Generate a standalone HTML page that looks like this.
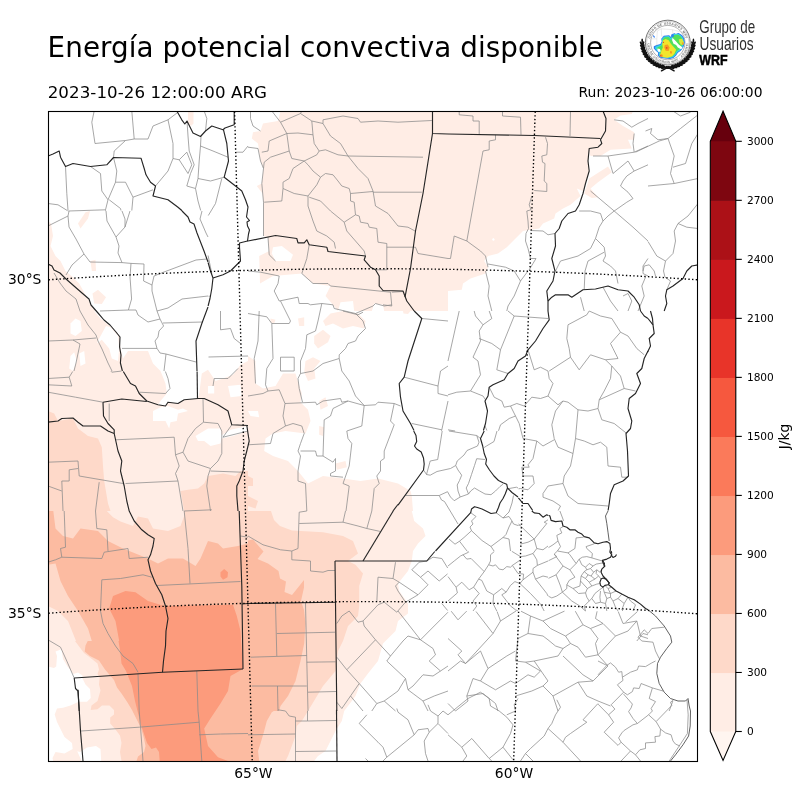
<!DOCTYPE html>
<html lang="es"><head><meta charset="utf-8"><title>Energía potencial convectiva disponible</title>
<style>
html,body{margin:0;padding:0;background:#fff;}
body{width:800px;height:800px;overflow:hidden;}
svg{display:block;will-change:transform;font-family:"DejaVu Sans","Liberation Sans",sans-serif;fill:#000;}
.dep{fill:none;stroke:#8a8a8a;stroke-width:0.75;stroke-linejoin:round;}
.prov{fill:none;stroke:#262626;stroke-width:1.15;stroke-linejoin:round;}
.coast{fill:none;stroke:#3a3a3a;stroke-width:0.8;stroke-linejoin:round;}
.grid{fill:none;stroke:#000;stroke-width:1.39;stroke-dasharray:1.39 2.29;}
</style></head><body>
<svg width="800" height="800" viewBox="0 0 800 800">
<rect width="800" height="800" fill="#fff"/>
<text x="47.6" y="57" font-size="27.78" textLength="555.4" lengthAdjust="spacing">Energía potencial convectiva disponible</text>
<text x="47.7" y="98" font-size="16.67" textLength="219.3" lengthAdjust="spacing">2023-10-26 12:00:00 ARG</text>
<text x="578.5" y="97.3" font-size="13.89" textLength="184" lengthAdjust="spacing">Run: 2023-10-26 06:00:00</text>
<defs><clipPath id="mapclip"><rect x="48.5" y="111.5" width="649" height="650"/></clipPath></defs>
<g clip-path="url(#mapclip)">
<g id="fills">
<defs><clipPath id="ca1"><rect x="48" y="111" width="200.0" height="200.0"/></clipPath>
<clipPath id="ca2"><rect x="248" y="111" width="200.0" height="200.0"/></clipPath>
<clipPath id="ca3"><rect x="448" y="111" width="200.0" height="200.0"/></clipPath>
<clipPath id="cb1"><rect x="48" y="311" width="200.0" height="200.0"/></clipPath>
<clipPath id="cb2"><rect x="248" y="311" width="200.0" height="200.0"/></clipPath>
<clipPath id="cc1"><rect x="48" y="511" width="200.0" height="200.0"/></clipPath>
<clipPath id="cc2"><rect x="248" y="511" width="200.0" height="200.0"/></clipPath>
<clipPath id="cd1"><rect x="48" y="711" width="200" height="51"/></clipPath>
<clipPath id="cd2"><rect x="248" y="711" width="200" height="51"/></clipPath>
<clipPath id="ce1"><rect x="48" y="641" width="120" height="121"/></clipPath></defs>
<g clip-path="url(#ca1)">
<polygon points="188.0,111.0 188.0,123.5 191.0,126.0 193.5,123.5 193.5,111.0" fill="#ffede5"/>
<polygon points="48.0,221.0 51.0,223.5 53.0,236.0 50.5,246.0 55.5,256.0 60.5,261.0 65.5,271.0 73.0,277.2 79.2,283.5 85.5,294.8 91.8,306.0 95.5,311.0 48.0,311.0" fill="#ffede5"/>
<polygon points="78.0,223.5 85.5,212.2 90.0,211.0 88.0,218.5 80.5,228.5" fill="#ffede5"/>
<polygon points="90.5,261.0 95.5,259.8 96.0,271.0 91.8,271.0" fill="#ffede5"/>
<polygon points="92.5,293.5 98.0,289.8 106.0,297.2 101.8,304.0 94.2,303.5" fill="#ffede5"/>
</g>
<g clip-path="url(#ca2)">
<polygon points="280.5,111.0 278.0,121.0 263.0,123.5 260.5,131.0 253.0,132.2 251.8,138.5 258.0,143.5 260.5,161.0 263.5,168.5 261.8,183.5 256.8,186.0 262.5,193.5 263.5,202.2 263.5,236.0 268.0,237.2 269.2,251.0 259.2,256.0 260.0,283.5 273.0,276.0 301.8,273.5 313.0,283.5 330.5,286.0 325.5,296.0 331.8,303.5 338.0,311.0 448.0,311.0 448.0,111.0" fill="#ffede5"/>
<polygon points="273.0,247.2 281.8,246.0 293.0,254.8 290.5,261.0 275.5,261.0 271.8,253.5" fill="#ffffff"/>
<polygon points="338.0,311.0 340.5,302.2 353.0,301.0 354.2,311.0" fill="#ffffff"/>
<polygon points="371.8,311.0 374.2,303.5 383.0,304.8 384.2,311.0" fill="#ffffff"/>
</g>
<g clip-path="url(#ca3)">
<polygon points="448.0,111.0 605.5,111.0 606.0,126.0 601.0,139.8 598.0,147.2 589.2,148.5 588.0,161.0 589.2,171.0 585.5,183.5 583.0,191.0 576.8,188.5 580.5,196.0 570.5,204.8 563.0,208.5 555.5,213.5 554.2,218.5 543.0,223.5 539.2,228.5 523.0,231.0 515.5,238.5 506.8,247.2 498.0,253.5 488.0,256.0 484.2,261.0 488.0,267.2 485.5,273.5 470.5,278.5 463.0,283.5 461.8,289.8 448.0,291.0" fill="#ffede5"/>
<polygon points="605.5,111.0 633.0,111.0 631.8,114.0 620.5,115.5 614.2,119.8 623.0,126.0 634.2,132.2 634.2,139.8 628.0,139.8 631.8,148.5 610.5,149.8 600.5,156.0 590.5,156.0 588.0,148.5 600.5,143.5 605.5,126.0" fill="#ffede5"/>
<polygon points="589.2,178.5 608.0,166.5 611.8,172.2 598.0,182.2 590.5,188.5 598.0,197.2 591.8,198.0 584.2,193.5" fill="#ffede5"/>
<polygon points="492.0,239.0 493.8,238.0 494.8,240.0 493.0,241.0" fill="#ffffff"/>
</g>
<g clip-path="url(#cb1)">
<polygon points="48.0,311.0 94.2,311.0 100.5,318.5 110.5,326.5 119.2,336.0 120.5,348.5 123.0,358.5 128.0,351.0 148.0,351.0 153.0,363.5 160.5,371.0 165.5,383.5 166.8,393.5 160.5,401.0 158.0,404.8 165.5,406.0 168.0,402.2 178.0,403.5 184.2,399.8 198.0,398.5 199.2,393.5 201.8,373.5 208.0,369.8 215.5,381.0 223.0,378.5 233.0,374.8 240.5,364.8 248.0,361.0 248.0,511.0 48.0,511.0" fill="#ffede5"/>
<polygon points="153.0,411.0 160.5,407.2 168.0,406.0 178.0,409.8 183.0,408.5 188.0,411.0 178.0,413.5 176.8,421.0 170.5,422.2 169.2,428.5 165.5,421.0 153.0,421.0" fill="#ffffff"/>
<polygon points="195.5,436.0 208.0,428.5 220.5,428.5 221.8,436.0 220.5,443.5 210.5,446.0 204.2,441.0 198.0,441.0" fill="#ffffff"/>
<polygon points="220.5,436.0 230.5,429.8 248.0,426.0 248.0,431.0 233.0,436.0 221.8,438.5" fill="#ffffff"/>
<polygon points="70.5,323.5 75.5,318.5 80.5,321.0 81.8,331.0 75.5,336.0 70.5,333.5" fill="#ffffff"/>
<polygon points="96.8,343.5 99.2,338.5 106.0,326.0 110.5,327.2 118.0,336.0 119.2,348.5 118.0,361.0 111.8,358.5 109.2,348.5 101.8,339.8" fill="#ffffff"/>
<polygon points="70.5,356.0 74.2,352.2 76.8,361.0 73.0,371.0 69.2,368.5" fill="#ffffff"/>
<polygon points="79.2,353.5 84.2,351.0 85.5,363.5 80.5,366.0" fill="#ffffff"/>
<polygon points="208.0,386.0 214.2,386.0 214.2,393.5 208.0,393.5" fill="#ffffff"/>
<polygon points="228.0,386.0 240.5,384.8 241.8,396.0 230.5,397.2" fill="#ffffff"/>
<polygon points="223.0,363.5 234.2,363.5 233.0,367.2 223.0,367.2" fill="#ffffff"/>
<polygon points="48.0,411.0 54.2,413.5 58.0,421.0 73.0,418.5 78.0,428.5 88.0,436.0 98.0,438.5 101.8,447.2 103.0,466.0 104.2,481.0 108.0,503.5 110.5,511.0 48.0,511.0" fill="#fed9c9"/>
<polygon points="180.5,491.0 188.0,489.8 198.0,488.5 204.2,483.5 208.0,476.0 223.0,473.5 235.5,476.0 240.5,471.0 248.0,471.0 248.0,511.0 184.2,511.0" fill="#fed9c9"/>
</g>
<g clip-path="url(#cb2)">
<polygon points="248.0,356.0 255.5,361.0 255.5,383.5 263.0,388.5 275.5,386.0 283.0,373.5 295.5,373.5 301.8,393.5 300.5,402.2 308.0,409.8 310.5,421.0 305.5,433.5 285.5,431.0 273.0,433.5 265.5,438.5 264.2,451.0 273.0,456.0 288.0,461.0 298.0,471.0 308.0,483.5 323.0,476.0 343.0,478.5 360.5,481.0 378.0,478.5 398.0,483.5 410.5,491.0 411.8,496.0 413.0,511.0 248.0,511.0" fill="#ffede5"/>
<polygon points="323.0,321.0 330.5,313.5 343.0,311.0 358.0,313.5 365.5,321.0 364.2,328.5 353.0,326.0 343.0,328.5 333.0,323.5 325.5,326.0" fill="#ffede5"/>
<polygon points="298.0,318.5 304.2,317.2 304.2,326.0 299.2,326.0" fill="#ffede5"/>
<polygon points="314.2,336.0 323.0,329.8 330.5,336.0 328.0,342.2 318.0,348.5 314.2,343.5" fill="#ffede5"/>
<polygon points="305.5,361.0 313.0,357.2 320.5,361.0 314.2,368.5 315.5,378.5 308.0,381.0 304.2,372.2" fill="#ffede5"/>
<polygon points="319.2,401.0 325.5,397.2 328.0,406.0 320.5,409.8" fill="#ffede5"/>
<polygon points="319.2,426.0 324.2,427.2 323.0,436.0 319.2,434.8" fill="#ffede5"/>
<polygon points="335.5,463.5 345.5,461.0 346.8,467.2 336.8,469.8" fill="#ffede5"/>
<polygon points="270.5,318.5 275.5,319.8 274.2,323.5 270.5,322.2" fill="#ffede5"/>
<polygon points="403.0,311.0 410.5,311.0 408.0,314.0 403.5,313.5" fill="#ffede5"/>
<polygon points="248.0,411.0 258.0,411.0 259.2,417.2 250.5,416.0" fill="#ffffff"/>
<polygon points="248.0,476.0 253.0,478.5 253.0,486.0 248.0,486.0" fill="#fed9c9"/>
<polygon points="248.0,496.0 258.0,501.0 255.5,508.5 248.0,506.0" fill="#fed9c9"/>
</g>
<g clip-path="url(#cc1)">
<polygon points="48.0,511.0 248.0,511.0 248.0,711.0 48.0,711.0" fill="#ffede5"/>
<polygon points="48.0,649.8 51.8,651.0 54.2,661.0 48.0,666.0" fill="#ffffff"/>
<polygon points="55.5,651.0 61.8,649.8 66.8,661.0 73.0,673.5 63.0,671.0 58.0,661.0" fill="#ffffff"/>
<polygon points="75.5,678.5 81.8,681.0 88.0,686.0 90.5,696.0 83.0,702.2 78.0,693.5" fill="#ffffff"/>
<polygon points="48.0,511.0 248.0,511.0 248.0,711.0 101.8,711.0 98.0,701.0 100.5,691.0 93.0,683.5 85.5,676.0 83.0,661.0 78.0,646.0 73.0,633.5 68.0,621.0 58.0,611.0 48.0,606.0" fill="#fed9c9"/>
<polygon points="106.8,511.0 113.0,517.2 120.5,521.5 133.0,526.0 138.0,516.5 148.0,518.5 153.0,528.5 168.0,531.0 180.5,526.0 184.2,516.0 183.8,511.0" fill="#ffede5"/>
<polygon points="48.0,506.0 53.0,508.5 55.5,528.5 63.0,536.0 73.0,538.5 80.5,528.5 98.0,531.0 108.0,541.0 123.0,548.5 148.0,558.5 158.0,563.5 168.0,558.5 183.0,558.5 195.5,566.0 200.5,558.5 208.0,541.0 218.0,543.5 223.0,548.5 238.0,546.0 248.0,543.5 248.0,711.0 118.0,711.0 114.2,691.0 108.0,681.0 98.0,671.0 90.5,661.0 85.5,653.5 85.5,647.2 91.8,641.0 88.0,628.5 78.0,611.0 68.0,596.0 60.5,581.0 55.5,563.5 48.0,564.8" fill="#fcbba1"/>
<polygon points="113.0,596.0 125.5,591.0 135.5,592.2 148.0,601.0 164.2,606.0 233.0,604.8 236.8,616.0 240.5,631.0 243.0,669.0 230.5,676.0 228.0,691.0 220.5,703.5 215.5,711.0 135.5,711.0 130.5,696.0 125.5,676.0 120.5,661.0 119.2,641.0 115.5,621.0 109.2,608.5" fill="#fc9b7c"/>
<polygon points="220.5,572.2 224.2,569.0 228.0,572.2 227.5,577.2 223.0,579.8 220.5,576.5" fill="#fc9b7c"/>
</g>
<g clip-path="url(#cc2)">
<polygon points="248.0,511.0 411.8,511.0 414.2,521.0 423.0,528.5 425.5,536.0 418.0,543.5 413.0,551.0 411.8,561.0 408.0,571.0 398.0,583.5 399.2,591.0 408.0,603.5 408.0,613.5 398.0,621.0 395.5,631.0 383.0,643.5 378.0,661.0 368.0,673.5 360.5,683.5 355.5,696.0 348.0,706.0 344.2,711.0 248.0,711.0" fill="#ffede5"/>
<polygon points="248.0,511.0 271.0,511.0 274.0,520.0 280.0,526.0 292.0,530.5 323.0,532.2 343.0,536.0 353.0,541.0 358.0,553.5 348.0,561.0 355.5,564.8 363.0,573.5 359.2,586.0 359.2,606.0 358.0,616.0 348.0,626.0 343.0,641.0 338.0,651.0 335.5,671.0 323.0,686.0 315.5,698.5 308.0,711.0 248.0,711.0" fill="#fed9c9"/>
<polygon points="248.0,540.5 253.0,539.5 263.5,551.5 257.5,559.0 268.0,563.5 278.5,571.0 280.0,578.5 286.0,581.5 284.5,592.0 292.0,595.0 304.0,580.0 304.0,587.5 301.0,601.0 304.0,610.0 305.5,623.5 304.2,643.5 300.5,661.0 295.5,681.0 288.0,696.0 280.5,706.0 279.2,711.0 248.0,711.0" fill="#fcbba1"/>
</g>
<g clip-path="url(#cd1)">
<polygon points="48.0,698.5 248.0,698.5 248.0,761.0 48.0,761.0" fill="#ffede5"/>
<polygon points="48.0,698.5 60.5,708.5 54.2,716.0 58.0,726.0 65.5,736.0 73.0,743.5 65.5,748.5 55.5,751.0 53.0,761.0 48.0,761.0" fill="#ffffff"/>
<polygon points="88.0,747.2 98.0,746.0 101.8,761.0 85.5,761.0" fill="#ffffff"/>
<polygon points="95.5,698.5 99.2,707.2 110.5,708.5 115.5,716.0 110.5,723.5 120.5,733.5 123.0,741.0 118.0,748.5 113.0,761.0 248.0,761.0 248.0,698.5" fill="#fed9c9"/>
<polygon points="118.0,698.5 121.8,711.0 135.5,726.0 140.5,736.0 144.2,748.5 143.0,761.0 248.0,761.0 248.0,698.5" fill="#fcbba1"/>
<polygon points="131.8,698.5 135.5,711.0 140.5,726.0 145.5,738.5 155.5,748.5 158.0,761.0 228.0,761.0 218.0,757.2 208.0,746.0 204.2,728.5 210.5,718.5 215.5,711.0 223.0,701.0 224.2,698.5" fill="#fc9b7c"/>
</g>
<g clip-path="url(#cd2)">
<polygon points="248.0,698.5 353.0,698.5 348.0,708.5 344.2,711.0 341.8,721.0 335.5,731.0 330.5,741.0 325.5,751.0 318.0,756.0 314.2,761.0 248.0,761.0" fill="#ffede5"/>
<polygon points="248.0,698.5 315.5,698.5 308.0,711.0 301.8,721.0 296.8,726.0 295.5,736.0 291.8,746.0 288.0,756.0 285.5,761.0 248.0,761.0" fill="#fed9c9"/>
<polygon points="248.0,698.5 285.5,698.5 278.0,708.5 271.8,712.2 266.8,721.0 264.2,731.0 260.5,743.5 258.0,751.0 259.2,761.0 248.0,761.0" fill="#fcbba1"/>
</g>
<g clip-path="url(#ce1)">
<polygon points="48.0,641.0 168.0,641.0 168.0,761.0 48.0,761.0" fill="#ffede5"/>
<polygon points="48.0,666.5 54.0,668.0 56.2,666.5 57.0,656.0 55.5,651.5 61.5,649.2 63.0,659.0 67.5,666.5 73.5,674.0 78.0,672.5 82.5,675.5 82.5,678.5 85.5,684.5 90.0,689.0 90.7,698.0 87.0,701.7 78.7,701.7 70.5,705.5 63.0,707.7 57.0,708.5 54.7,714.5 57.0,722.0 60.0,728.0 64.5,737.0 72.0,743.0 72.7,749.0 64.5,753.5 55.5,752.0 52.5,758.0 53.2,761.0 48.0,761.0" fill="#ffffff"/>
<polygon points="77.2,751.2 80.2,752.0 87.0,747.5 96.0,746.0 100.5,749.0 101.2,761.0 81.7,761.0" fill="#ffffff"/>
<polygon points="75.0,641.0 79.5,647.0 84.0,653.0 90.0,657.5 97.5,663.5 99.0,669.5 97.5,674.0 99.7,677.0 99.0,684.5 100.5,690.5 97.5,701.0 91.5,705.5 90.7,710.0 97.5,709.2 102.0,705.5 109.5,705.5 114.0,710.0 114.0,714.5 110.2,717.5 110.2,723.5 115.5,729.5 120.0,735.5 121.5,743.0 120.0,752.0 121.5,761.0 168.0,761.0 168.0,641.0" fill="#fed9c9"/>
<polygon points="87.7,641.0 85.5,645.5 84.7,651.5 90.0,656.0 99.0,660.5 105.0,669.5 109.5,674.7 114.0,680.0 117.0,687.5 121.5,693.5 127.5,702.5 132.0,710.0 136.5,719.0 141.0,728.0 144.0,738.5 145.5,746.0 144.0,752.0 138.0,756.5 136.5,761.0 168.0,761.0 168.0,641.0" fill="#fcbba1"/>
<polygon points="118.5,641.0 120.0,650.0 121.5,663.5 126.0,671.0 129.0,678.5 132.0,686.0 135.0,701.0 138.0,713.0 141.0,725.0 144.0,734.0 147.0,743.0 151.5,749.0 156.0,747.5 159.0,752.0 159.7,761.0 168.0,761.0 168.0,641.0" fill="#fc9b7c"/>
</g>
</g>
<g id="deps" class="dep">
<polyline points="94.2,111.0 91.8,122.2 95.0,143.5 125.5,140.5 134.2,139.0 131.8,111.0"/>
<polyline points="125.5,140.5 114.2,151.0 113.5,157.5"/>
<polyline points="134.2,139.0 148.0,139.0 153.0,126.0 168.0,119.8 178.0,112.2"/>
<polyline points="168.0,119.8 173.0,143.5 173.0,158.5 168.0,171.0 155.5,186.0"/>
<polyline points="173.0,158.5 179.2,159.8 186.8,152.2 191.8,164.8 188.0,173.5 179.2,159.8"/>
<polyline points="187.0,121.0 188.0,136.0 189.2,151.0 194.2,164.8 190.5,173.5 186.8,186.0 195.5,188.5 198.0,178.5 199.2,161.0 200.5,146.0 201.0,136.5"/>
<polyline points="200.5,146.0 213.0,151.0 228.0,157.2"/>
<polyline points="198.0,178.5 210.5,181.0 224.2,177.2"/>
<polyline points="195.5,188.5 198.0,201.0 200.7,210.5"/>
<polyline points="208.1,255.5 209.2,261.0 211.8,273.5"/>
<polyline points="221.8,178.5 215.5,203.5 208.3,215.5"/>
<polyline points="48.0,203.5 58.0,204.8 67.5,210.7"/>
<polyline points="68.5,211.0 105.5,209.8"/>
<polyline points="65.5,166.5 66.8,193.5 68.0,210.5"/>
<polyline points="90.5,166.5 100.5,173.5 101.8,191.0 108.0,199.8 105.5,209.8 105.6,210.8"/>
<polyline points="108.0,199.8 115.5,182.2 125.5,182.2 133.0,197.2 131.8,210.5"/>
<polyline points="113.5,157.5 116.8,171.0 115.5,182.2"/>
<polyline points="133.0,197.2 153.0,189.8"/>
<polyline points="109.2,199.8 120.5,208.5 121.0,210.5"/>
<polyline points="208.2,260.6 209.2,261.0"/>
<polyline points="208.5,296.2 210.5,296.0"/>
<polyline points="235.5,152.2 243.0,152.2 248.0,146.0"/>
<polyline points="204.2,111.0 206.8,118.5 205.5,131.0"/>
<polyline points="250.5,111.0 250.5,118.5 253.0,126.0 260.5,131.0"/>
<polyline points="248.0,147.2 258.0,148.5 260.5,161.0"/>
<polyline points="271.8,111.0 280.5,122.2 286.8,133.5 289.2,151.0 291.8,158.5 304.2,161.0 316.8,154.8 319.2,151.0 314.2,143.5 313.0,134.8 298.0,133.0 286.8,133.5"/>
<polyline points="280.5,122.2 300.5,113.5 301.8,111.0"/>
<polyline points="300.5,113.5 311.8,121.0 313.0,134.8"/>
<polyline points="311.8,121.0 323.0,123.5 323.0,119.8 343.0,116.0 358.0,118.5 360.5,122.2 378.0,121.0 398.0,122.2 431.8,120.5"/>
<polyline points="323.0,123.5 330.5,136.0 340.5,143.5 348.0,156.0 423.0,157.2"/>
<polyline points="319.2,151.0 325.5,149.8 338.0,154.8 348.0,156.0"/>
<polyline points="348.0,156.0 358.0,168.5 368.0,178.5 373.0,191.0 375.5,206.0 388.0,213.5 398.0,226.0 408.0,227.2 415.0,231.0"/>
<polyline points="373.0,192.2 421.8,192.2"/>
<polyline points="350.5,193.5 373.0,191.5"/>
<polyline points="304.2,161.0 308.0,164.8 313.0,171.0 320.5,177.2 325.5,173.5 333.0,174.8 338.0,181.0 341.8,186.0 349.2,188.5 350.5,193.5 350.5,201.0 354.2,202.2 355.5,214.8 359.2,216.0 360.5,222.2 368.0,223.5 369.2,227.2 376.8,228.5 378.0,242.2 386.8,243.5 386.8,269.8 375.5,269.8"/>
<polyline points="304.2,161.0 293.0,168.5 289.2,178.5 283.0,182.2 283.0,188.5 294.2,193.5 308.0,196.0 316.8,184.8 320.5,177.2"/>
<polyline points="308.0,196.0 308.0,206.0 313.0,221.0 316.8,231.0 326.8,236.0 334.2,242.2 335.5,248.5"/>
<polyline points="309.2,197.2 320.5,201.0 330.5,211.0 344.2,222.2 346.8,231.0 355.5,241.0 364.2,251.0 365.5,256.0"/>
<polyline points="344.2,222.2 355.5,214.8"/>
<polyline points="386.8,247.2 415.5,247.2 418.0,253.5 448.0,258.5"/>
<polyline points="289.2,151.0 270.5,157.2 264.2,162.2 263.5,168.5"/>
<polyline points="286.8,133.5 269.2,141.0 268.0,151.0 261.8,152.2"/>
<polyline points="283.0,188.5 281.8,201.0 264.2,202.2"/>
<polyline points="260.5,161.0 263.5,168.5 261.8,183.5 263.5,202.2 263.5,236.0"/>
<polyline points="268.0,237.2 269.2,254.8 275.5,261.0"/>
<polyline points="309.2,244.8 306.8,258.5 301.8,273.5"/>
<polyline points="248.0,271.0 260.5,272.2 279.2,276.0 278.0,283.5 274.2,291.0 279.2,301.0 298.0,297.2 299.2,303.5 308.0,303.5 310.5,304.8 321.8,303.5 333.0,304.8 334.2,308.5 355.5,313.5 373.0,306.0 375.5,303.5 384.2,306.0 391.8,304.8"/>
<polyline points="301.8,273.5 313.0,283.5 328.0,283.5 330.5,286.0 390.5,292.2 391.8,306.0 383.0,304.8"/>
<polyline points="391.8,292.2 403.0,291.5"/>
<polyline points="459.2,111.0 459.2,114.8 473.0,116.0 473.0,121.0 479.2,121.0 479.2,134.0"/>
<polyline points="502.5,111.0 502.5,116.0 520.5,117.2 521.0,134.8"/>
<polyline points="570.5,111.0 570.0,136.0"/>
<polyline points="495.5,134.8 495.5,139.8 489.2,141.0 489.2,149.8 483.0,151.0 466.8,241.0"/>
<polyline points="448.0,258.5 450.5,258.5 454.2,236.0 466.8,241.0 480.5,251.0 485.5,256.0 488.0,267.2"/>
<polyline points="545.5,137.2 547.5,143.5 546.8,154.8 541.8,156.0 542.5,162.2 545.0,163.5 544.2,181.0 546.8,183.5 546.8,191.5 534.2,190.5"/>
<polyline points="531.8,196.0 529.2,204.8 531.0,209.8 526.8,211.0 528.0,221.0 528.5,228.5 526.0,233.5 525.5,241.0 528.0,248.5 530.5,258.5 536.0,258.5 533.0,263.5 529.2,269.8"/>
<polyline points="530.5,230.5 543.0,231.0 548.0,234.8 555.0,233.5"/>
<polyline points="485.5,271.0 489.2,286.0 488.0,296.0 491.8,311.0"/>
<polyline points="488.0,264.0 505.5,267.2 514.2,271.0 520.5,281.0 528.0,271.0"/>
<polyline points="520.5,281.0 514.2,296.0 508.0,306.0 506.8,311.0"/>
<polyline points="623.0,121.0 631.8,127.2 638.0,123.5 648.0,118.5"/>
<polyline points="614.2,119.8 623.0,121.0"/>
<polyline points="634.2,133.5 633.0,143.5 634.2,152.2 648.0,146.0"/>
<polyline points="593.0,156.0 608.0,156.0 634.2,152.2"/>
<polyline points="608.0,156.0 613.0,173.5 628.0,161.0 634.2,171.0 626.8,176.0 623.0,181.0 620.5,186.0 628.0,192.2 633.0,198.5 626.8,202.2 614.2,211.0"/>
<polyline points="634.2,171.0 648.0,164.8"/>
<polyline points="590.5,191.0 614.2,211.0 633.0,227.2 648.0,241.0"/>
<polyline points="614.2,211.0 608.0,216.0 603.0,221.0 599.2,227.2 595.5,238.5 590.5,248.5 578.0,256.0 560.5,261.0 555.5,271.0"/>
<polyline points="579.2,211.0 590.5,211.0 600.5,213.5 603.0,221.0"/>
<polyline points="595.5,238.5 604.2,247.2 605.5,256.0 603.0,261.0 610.5,266.0 615.5,271.0 618.0,283.5"/>
<polyline points="604.2,252.2 588.0,261.0 585.0,271.0 584.2,289.8"/>
<polyline points="648.0,258.5 643.0,266.0 643.0,273.5 648.0,276.0"/>
<polyline points="623.0,296.0 628.0,293.5 631.8,301.0 628.0,311.0"/>
<polyline points="580.5,297.2 584.2,311.0"/>
<polyline points="603.0,287.2 610.5,301.0 618.0,311.0"/>
<polyline points="645.5,131.0 651.8,128.5 650.5,133.5 658.0,139.8 668.0,138.5 680.5,128.5 698.0,114.8"/>
<polyline points="635.5,152.2 659.2,141.0 668.0,138.5"/>
<polyline points="668.0,138.5 674.2,156.0 671.8,167.2 670.5,173.5 674.2,183.5"/>
<polyline points="673.0,167.2 685.5,163.5 691.8,143.5 698.0,133.5"/>
<polyline points="648.0,186.0 674.2,183.5 698.0,178.5"/>
<polyline points="648.0,241.5 656.8,256.0 665.5,261.0 673.0,253.5 675.5,241.0 674.2,231.0 678.0,223.5 688.0,216.0 698.0,203.5"/>
<polyline points="678.0,223.5 686.8,227.2 698.0,228.5"/>
<polyline points="665.5,261.0 663.5,271.0 665.0,277.2 670.5,281.0 666.8,289.8"/>
<polyline points="643.0,271.0 644.2,266.0 649.2,264.8 654.2,271.0 655.5,276.0"/>
<polyline points="645.5,277.2 641.8,286.0 644.2,296.0 638.0,311.0"/>
<polyline points="673.0,111.0 680.5,116.0 690.5,112.2"/>
<polyline points="72.7,371.5 69.2,377.2 48.0,378.5"/>
<polyline points="48.0,384.8 71.8,386.0 69.2,377.2"/>
<polyline points="48.0,392.2 75.5,397.2 103.0,402.2"/>
<polyline points="111.0,371.2 111.8,372.2 121.2,371.1"/>
<polyline points="48.0,462.2 78.0,461.0 79.2,476.0 123.0,483.5"/>
<polyline points="61.8,481.0 69.2,481.0 69.2,469.8 78.0,468.5"/>
<polyline points="61.8,481.0 63.0,511.0"/>
<polyline points="99.2,482.2 95.5,511.0"/>
<polyline points="48.0,486.0 61.8,491.0"/>
<polyline points="165.4,371.5 168.0,378.5 170.0,388.5 165.5,393.5 139.2,392.2"/>
<polyline points="208.5,357.0 248.0,356.0"/>
<polyline points="220.5,311.0 220.5,329.8 230.5,328.5 234.2,338.5 240.5,343.5"/>
<polyline points="213.0,386.0 214.2,378.5 228.0,378.5 238.0,368.5"/>
<polyline points="203.0,398.5 203.5,422.2 218.0,423.5 221.8,431.0 221.8,453.5 218.0,461.0 210.5,468.5 188.0,461.0 183.0,452.2 188.0,438.5 195.5,428.5 203.5,422.2"/>
<polyline points="115.5,439.8 174.2,437.2 175.5,454.8 183.0,452.2"/>
<polyline points="175.5,454.8 179.2,466.0 175.5,473.5 178.0,481.0 125.5,483.5"/>
<polyline points="178.0,481.0 183.0,511.0"/>
<polyline points="210.5,468.5 208.0,476.0 206.8,486.0 210.5,511.0"/>
<polyline points="210.5,471.0 241.8,472.2"/>
<polyline points="231.8,424.8 223.0,437.2 248.0,431.0"/>
<polyline points="109.2,403.5 109.2,421.0"/>
<polyline points="259.2,311.0 258.0,341.0 254.2,358.5 255.5,383.5"/>
<polyline points="248.0,313.5 266.8,316.8 271.8,323.5 289.2,323.5 290.5,321.0 285.5,311.0 280.5,301.0"/>
<polyline points="271.8,323.5 273.0,358.5 266.8,368.5 265.5,384.8 268.0,391.0 279.2,389.8 281.8,396.0 285.0,403.5"/>
<polyline points="280.5,357.2 294.2,357.2 294.2,371.0 280.5,371.0 280.5,357.2"/>
<polyline points="321.8,303.5 318.0,321.0 315.5,331.0 306.8,334.8 305.5,348.5 300.5,361.0 300.5,373.5 298.0,378.5 299.2,388.5 302.5,402.2"/>
<polyline points="248.0,396.0 263.0,393.5 268.0,391.0"/>
<polyline points="285.0,403.5 315.5,402.2 316.8,404.8 323.0,401.0 340.5,398.5 341.8,402.2 348.0,401.0 364.2,405.5 375.5,404.8 378.0,402.2 394.2,403.5 400.5,406.0"/>
<polyline points="300.5,373.5 313.0,371.0 323.0,363.5 339.2,358.5 339.2,354.8 345.5,348.5 348.0,343.5 355.5,341.0 358.0,336.0 365.5,328.5 363.0,321.0 355.5,313.5"/>
<polyline points="339.2,358.5 341.8,371.0 349.2,381.0 355.5,396.0 364.2,405.5"/>
<polyline points="285.0,403.5 283.0,416.0 285.5,426.0 293.0,423.5 301.8,426.0 304.2,433.5 300.5,443.5 298.0,451.0 300.5,456.0 298.0,471.0 298.0,481.0 305.5,483.5 306.8,511.0"/>
<polyline points="285.5,426.0 273.0,433.5 270.5,443.5 248.0,444.8"/>
<polyline points="348.0,401.0 333.0,408.5 330.5,416.0 324.2,419.8 323.0,456.0 333.0,462.2 335.5,458.5 335.5,471.0 330.5,473.5 330.5,476.0 343.0,477.2"/>
<polyline points="300.5,451.0 315.5,451.0 316.8,456.0 323.0,456.0"/>
<polyline points="364.2,405.5 361.8,426.0 346.8,431.0 348.0,438.5 351.8,443.5 349.2,466.0 343.0,483.5 349.2,486.0 346.0,511.0"/>
<polyline points="394.2,403.5 390.5,421.0 394.2,424.8 384.2,451.0 384.2,458.5 380.5,461.0 380.5,471.0 376.8,476.0 379.2,483.5 374.2,488.5 371.8,511.0"/>
<polyline points="343.0,311.0 358.0,314.8 363.0,312.2"/>
<polyline points="421.8,318.5 448.0,321.0"/>
<polyline points="404.2,377.2 438.0,386.0 438.0,393.5 448.0,396.0"/>
<polyline points="438.0,386.0 440.5,371.0 448.0,366.0"/>
<polyline points="411.8,423.5 441.8,429.8 448.0,401.0"/>
<polyline points="441.8,429.8 441.5,430.8"/>
<polyline points="528.0,349.8 534.2,369.8 540.5,367.2 548.0,371.0 549.2,378.5 553.0,383.5 548.0,396.0 540.5,398.5 531.8,397.2 524.2,406.0"/>
<polyline points="489.2,387.2 494.2,397.2 501.8,401.0 504.2,407.2 510.5,406.0 516.8,403.5 524.2,406.0"/>
<polyline points="510.5,406.0 515.5,416.0 519.2,423.5 523.0,438.5 536.8,441.0 533.0,458.5 528.0,464.8 529.2,467.2 521.8,467.2 523.0,476.0 533.0,476.0 534.2,483.5 528.0,489.8 520.5,488.5 518.5,488.8"/>
<polyline points="485.0,426.0 486.9,430.5"/>
<polyline points="498.5,430.8 500.5,424.8 509.2,418.5 515.5,416.0"/>
<polyline points="549.2,371.0 570.5,357.2 579.2,369.8 590.5,354.8 605.5,359.8 618.0,358.5 613.0,348.5 610.5,343.5 620.5,332.2 611.8,318.5 600.5,316.0 589.2,311.0"/>
<polyline points="589.2,311.0 586.8,314.8 568.0,324.8 566.8,338.5 569.2,348.5 570.5,357.2"/>
<polyline points="605.5,359.8 611.8,366.0 610.5,378.5 604.2,391.0 599.2,399.8 598.0,408.5 588.0,411.0 578.0,409.8 568.0,402.2 563.0,401.0 558.0,404.8 548.0,396.0"/>
<polyline points="620.5,332.2 628.0,336.0 636.8,348.5 644.2,354.8"/>
<polyline points="611.8,366.0 620.5,376.0 624.2,388.5 635.5,391.0"/>
<polyline points="599.2,399.8 624.2,388.5"/>
<polyline points="598.0,408.5 601.8,419.8 614.2,423.5 626.8,433.5"/>
<polyline points="563.0,401.0 555.5,411.0 551.8,424.8 554.2,438.5 558.0,447.2 573.0,453.5 575.5,438.5 578.0,409.8"/>
<polyline points="536.8,441.0 543.0,446.0 554.2,439.8"/>
<polyline points="575.5,438.5 584.2,441.0 593.0,444.8 600.5,442.2 606.8,447.2 608.0,466.0 620.5,467.2 621.8,477.2 628.0,477.2"/>
<polyline points="573.0,453.5 570.5,466.0 564.2,476.0 563.0,483.5 548.0,486.0 543.0,493.5 543.0,497.2 553.0,501.0 560.5,506.0 558.2,510.5"/>
<polyline points="563.0,483.5 568.0,496.0 578.0,503.5 593.0,504.8 608.0,506.0"/>
<polyline points="459.2,311.0 448.0,361.0"/>
<polyline points="448.0,394.8 456.8,392.2 470.5,391.0 483.0,396.0 485.5,399.8"/>
<polyline points="470.5,391.0 480.5,374.8 478.0,361.0 473.0,357.2 480.5,341.0 479.2,331.0 483.0,324.8 475.5,316.0 474.2,311.0"/>
<polyline points="479.2,338.5 491.8,343.5 500.5,349.8 496.8,369.8 508.0,373.5"/>
<polyline points="500.5,349.8 514.2,316.0 548.0,318.5"/>
<polyline points="483.0,324.8 491.8,318.5 489.2,311.0"/>
<polyline points="508.0,311.0 514.2,316.0"/>
<polyline points="448.0,429.8 455.1,431.0"/>
<polyline points="64.2,511.0 65.5,547.2 60.5,548.5 61.8,557.2 55.5,559.8 48.0,562.2"/>
<polyline points="61.8,557.2 101.8,558.5 104.2,552.2 128.0,548.5 129.2,558.5 148.0,557.2"/>
<polyline points="95.5,511.0 96.8,528.5 106.8,529.8 108.0,551.0"/>
<polyline points="184.2,511.0 188.0,548.5 190.0,583.5"/>
<polyline points="156.8,585.5 240.5,581.5"/>
<polyline points="101.8,579.8 120.5,578.5 143.0,574.8 151.8,577.2"/>
<polyline points="101.8,579.8 100.5,611.0 103.0,623.5 108.0,633.5 115.5,646.0 123.0,656.0 133.0,663.5 138.0,672.2"/>
<polyline points="48.0,639.8 60.5,647.2 66.8,661.0 74.2,678.0"/>
<polyline points="138.0,673.5 139.2,711.0"/>
<polyline points="196.8,671.0 198.0,711.0"/>
<polyline points="240.5,536.0 248.0,537.2"/>
<polyline points="184.2,511.0 211.8,509.8"/>
<polyline points="306.8,511.0 299.2,512.2 298.0,548.5 291.8,551.0 291.8,559.8 310.5,561.0 310.5,571.0 323.0,572.2 328.0,570.5 335.0,570.5"/>
<polyline points="248.0,536.0 263.0,544.8 280.5,549.8 291.8,551.0"/>
<polyline points="299.2,523.5 343.0,522.2 358.0,526.0 366.8,528.5 380.5,531.5"/>
<polyline points="345.5,511.0 343.0,522.2"/>
<polyline points="371.8,511.0 366.8,528.5"/>
<polyline points="275.5,603.5 276.8,656.0"/>
<polyline points="305.5,603.0 306.8,661.0 308.0,711.0"/>
<polyline points="276.8,633.5 335.0,632.2"/>
<polyline points="250.5,657.2 306.8,655.5"/>
<polyline points="306.8,662.2 335.5,661.8"/>
<polyline points="251.8,686.0 306.8,686.0"/>
<polyline points="277.5,686.0 278.0,711.0"/>
<polyline points="308.0,692.2 336.0,691.5"/>
<polyline points="336.8,623.5 341.8,616.0 349.2,611.0 358.0,622.2 363.0,621.0 378.0,604.8 384.2,602.2 396.8,612.2 405.5,602.2 398.0,591.0 395.5,586.0 399.2,582.2 393.0,578.5 378.0,577.2 376.8,602.2"/>
<polyline points="393.0,578.5 395.5,562.2"/>
<polyline points="363.0,621.0 364.2,626.0 375.5,639.8 346.8,669.8 336.8,657.2"/>
<polyline points="346.8,669.8 359.2,683.5 350.5,696.0 341.8,708.5 336.8,702.2"/>
<polyline points="359.2,683.5 376.8,703.5 371.8,711.0"/>
<polyline points="350.5,696.0 363.0,711.0"/>
<polyline points="375.5,639.8 390.5,656.0 386.8,661.0 405.5,678.5 398.0,691.0 384.2,701.0 376.8,703.5"/>
<polyline points="398.0,611.0 420.5,639.8 408.0,636.0 403.0,641.0 390.5,656.0"/>
<polyline points="420.5,639.8 434.2,626.0 448.0,612.2"/>
<polyline points="420.5,639.8 433.0,648.5 435.5,654.8 429.2,661.0 440.5,671.0 433.0,676.0 423.0,674.8 413.0,686.0 408.0,689.8 405.5,678.5"/>
<polyline points="411.8,569.8 419.2,562.2 426.8,561.0"/>
<polyline points="411.8,569.8 420.5,577.2 428.0,571.0 439.2,581.0 447.5,573.9"/>
<polyline points="426.8,561.0 433.0,557.2 441.8,558.5 447.7,568.0"/>
<polyline points="420.5,577.2 428.0,584.8 418.0,594.8 405.5,602.2"/>
<polyline points="399.2,582.2 418.0,594.8"/>
<polyline points="441.8,603.5 447.6,610.5"/>
<polyline points="440.5,671.0 448.0,666.0"/>
<polyline points="408.0,689.8 423.0,701.0 434.2,696.0 448.0,691.0"/>
<polyline points="423.0,701.0 428.0,711.0"/>
<polyline points="384.2,701.0 395.5,711.0"/>
<polyline points="564.5,611.1 543.0,621.0 530.5,616.0 521.0,611.2"/>
<polyline points="451.2,611.2 458.0,619.8 466.7,611.1"/>
<polyline points="476.0,611.5 493.0,633.5 465.5,663.5 458.0,654.8 461.8,651.0 448.0,638.5"/>
<polyline points="493.0,633.5 500.5,621.0 497.1,611.5"/>
<polyline points="500.5,621.0 516.0,611.0"/>
<polyline points="530.5,616.0 528.0,633.5 518.0,638.5 515.5,661.0 525.5,662.2 534.2,661.0 558.0,656.0 563.0,648.5 555.5,646.0 548.0,639.8 543.0,636.0 528.0,633.5"/>
<polyline points="543.0,621.0 550.5,628.5 565.5,636.0 570.5,643.5 563.0,648.5"/>
<polyline points="570.5,643.5 578.0,647.2 585.5,657.2 598.0,654.8 595.5,643.5 598.0,638.5 590.5,628.5 583.0,624.8 575.3,611.2"/>
<polyline points="565.5,636.0 583.0,624.8"/>
<polyline points="597.1,611.3 595.5,618.5 603.0,623.5 590.5,628.5"/>
<polyline points="603.0,623.5 615.5,636.0 598.0,654.8"/>
<polyline points="615.5,636.0 628.0,631.0 636.8,621.0 623.0,623.5 618.2,611.5"/>
<polyline points="637.5,611.5 625.5,622.2"/>
<polyline points="636.8,621.0 640.5,636.0 648.0,638.5"/>
<polyline points="636.8,641.0 643.0,633.5 648.0,634.8"/>
<polyline points="598.0,654.8 608.0,666.0 593.0,681.0 583.0,674.8 563.0,656.0"/>
<polyline points="593.0,681.0 578.0,682.2 586.8,696.0 598.0,701.0 610.5,706.0"/>
<polyline points="578.0,682.2 553.0,696.0 558.0,711.0"/>
<polyline points="553.0,696.0 543.0,686.0 531.8,691.0 515.5,696.0"/>
<polyline points="534.2,661.0 548.0,681.0 543.0,686.0"/>
<polyline points="525.5,662.2 540.5,671.0 534.2,677.2 528.0,674.8 515.5,683.5"/>
<polyline points="465.5,663.5 480.5,651.0 488.0,668.5 506.8,656.0 515.5,651.0"/>
<polyline points="488.0,668.5 480.5,681.0 473.0,678.5 466.8,696.0 483.0,693.5 495.5,703.5 498.0,711.0"/>
<polyline points="480.5,681.0 495.5,689.8 510.5,681.0 515.5,683.5"/>
<polyline points="448.0,671.0 460.5,661.0 465.5,663.5"/>
<polyline points="448.0,703.5 455.5,711.0"/>
<polyline points="466.8,696.0 468.0,701.0 455.5,711.0"/>
<polyline points="638.0,637.2 644.2,629.8 648.0,633.5 651.8,628.5 664.2,627.2"/>
<polyline points="638.0,637.2 641.8,641.0 653.0,642.2 655.5,651.0 659.2,658.5"/>
<polyline points="673.0,700.5 669.2,711.0"/>
<polyline points="81.0,731.0 139.2,727.2 199.2,722.2"/>
<polyline points="139.2,711.0 140.5,727.2 143.0,761.0"/>
<polyline points="198.0,711.0 199.2,722.2 201.8,761.0"/>
<polyline points="199.2,734.8 220.5,734.0 248.0,733.5"/>
<polyline points="307.5,711.0 307.5,721.0"/>
<polyline points="278.0,709.8 285.5,711.0 289.2,716.0 295.5,717.2 295.5,761.0"/>
<polyline points="295.5,721.0 307.5,721.0 336.0,720.5"/>
<polyline points="248.0,734.8 295.5,734.0"/>
<polyline points="295.5,751.5 336.0,751.0"/>
<polyline points="366.8,714.8 359.2,723.5 378.0,742.2 383.0,747.2 386.8,757.2 383.0,761.0"/>
<polyline points="396.8,708.5 398.0,712.2 408.0,719.8 414.2,734.8 386.8,757.2"/>
<polyline points="414.2,734.8 418.0,729.8 428.0,728.5 429.2,732.2 438.0,723.5 448.0,733.5"/>
<polyline points="429.2,732.2 424.2,741.0 425.5,753.5 428.0,761.0"/>
<polyline points="428.0,704.8 430.5,711.0 438.0,716.0 443.0,711.0 448.0,714.8"/>
<polyline points="438.0,723.5 438.0,716.0"/>
<polyline points="365.5,758.5 368.0,761.0"/>
<polyline points="448.0,714.8 468.0,698.5 480.5,692.2 489.2,698.5 490.5,706.0 499.2,711.0 506.8,717.2 513.0,724.8"/>
<polyline points="506.8,714.8 515.5,711.0 514.2,704.8 518.0,698.5"/>
<polyline points="556.8,699.8 560.5,707.2 555.5,714.8 551.8,723.5 548.0,728.5 544.2,736.0 530.5,748.5 525.5,753.5 520.5,761.0"/>
<polyline points="598.0,703.5 583.0,719.8 586.8,722.2 570.5,733.5 565.5,737.2 563.0,742.2"/>
<polyline points="548.0,728.5 563.0,742.2 580.5,761.0"/>
<polyline points="448.0,734.8 461.8,747.2 471.8,738.5 489.2,758.5 503.0,747.2 510.5,733.5 513.0,724.8"/>
<polyline points="461.8,747.2 466.8,756.0 463.0,761.0"/>
<polyline points="503.0,747.2 513.0,759.8"/>
<polyline points="489.2,758.5 491.8,761.0"/>
<polyline points="525.5,753.5 533.0,761.0"/>
<polyline points="687.0,699.8 688.2,714.8 687.4,733.5 679.2,746.0 669.2,761.0"/>
<polyline points="598.0,661.0 606.8,665.4 610.5,662.9 615.5,667.2 618.6,672.2 621.8,671.6 622.4,677.2 630.5,672.2 637.4,669.8 638.6,666.0 645.5,666.6 651.8,662.9 655.5,661.0"/>
<polyline points="598.0,674.8 606.8,665.4"/>
<polyline points="622.4,677.2 623.0,680.4 617.4,684.8 623.6,692.2 627.4,694.8 632.4,691.6 633.6,687.9 639.2,688.5 641.1,683.5 652.4,687.9 663.0,691.0"/>
<polyline points="623.6,692.2 611.1,704.8 614.9,709.1 608.6,714.8 598.0,704.1"/>
<polyline points="623.6,694.1 632.4,704.1 631.1,707.9 628.6,711.6 633.0,718.5 637.4,723.5 648.6,714.8 652.4,711.0 651.1,708.5 655.5,701.6 649.2,698.5 652.4,687.9"/>
<polyline points="608.6,714.8 613.6,722.2 604.2,732.2 618.0,745.4 621.1,742.2 618.6,737.9 621.8,732.9 624.2,730.4 633.0,724.8 637.4,723.5"/>
<polyline points="648.6,714.8 656.1,721.6 671.8,705.4 670.5,702.2 673.0,700.4"/>
<polyline points="656.1,721.6 660.5,729.1 665.5,732.9 671.1,734.8 673.0,741.0 675.5,744.1 679.9,746.0"/>
<polyline points="660.5,729.1 659.9,736.0 654.9,736.6 655.5,742.2 645.5,742.9 645.5,748.5 639.9,749.8 635.5,754.8"/>
<polyline points="621.1,742.2 630.5,751.0 635.5,754.8 640.5,761.0"/>
<polyline points="630.5,751.0 621.1,761.0"/>
<polyline points="559.9,511.0 561.8,516.0 563.6,520.8"/>
<polyline points="563.0,526.6 559.9,528.5 561.8,532.9 556.8,535.4 558.0,541.0 560.5,546.6 557.4,551.0 554.2,554.1 556.8,556.6 548.5,560.7"/>
<polyline points="558.0,541.0 553.0,544.8 548.5,547.6"/>
<polyline points="557.4,551.0 568.0,552.9 574.9,548.5 576.1,537.9 583.6,537.2"/>
<polyline points="568.0,552.9 569.9,554.8 576.1,563.5 579.2,559.1 582.4,557.2 586.8,556.6 591.8,557.9 592.4,553.5 586.8,548.5 586.1,546.6 594.2,543.8"/>
<polyline points="591.8,557.9 602.4,561.0"/>
<polyline points="554.2,554.1 563.0,566.0 569.9,569.8 576.1,563.5"/>
<polyline points="579.2,559.1 581.8,564.8 585.5,567.2 586.8,569.8 584.2,571.6 581.1,576.0 580.5,581.0 579.9,586.0 573.0,588.5 566.8,584.8 569.2,580.4 574.9,577.2 572.4,573.5 569.9,569.8"/>
<polyline points="563.0,566.0 556.1,574.8 548.5,578.3"/>
<polyline points="556.1,574.8 560.5,586.0 562.4,592.2 556.8,596.0 551.8,597.9 548.5,596.3"/>
<polyline points="562.4,592.2 566.8,588.5 566.8,584.8"/>
<polyline points="562.4,592.2 571.8,601.0 579.9,606.0 585.5,611.0"/>
<polyline points="573.0,588.5 578.6,593.5 585.5,592.9 587.4,588.5 591.8,586.0 596.8,584.1 599.9,583.5"/>
<polyline points="585.5,592.9 586.8,597.2 589.2,601.0 591.8,598.5 594.9,593.5 598.0,591.0 603.0,587.2"/>
<polyline points="589.2,601.0 584.2,606.0 585.5,611.0"/>
<polyline points="591.8,598.5 595.5,603.5 600.5,602.2 599.9,597.2 600.5,591.0"/>
<polyline points="586.8,569.8 590.5,568.5 593.0,566.0 589.2,563.5 585.5,567.2"/>
<polyline points="590.5,568.5 593.6,572.2 596.8,569.8 599.9,572.2 601.8,569.1"/>
<polyline points="593.6,572.2 591.1,576.0 594.9,579.1 598.6,576.0 601.1,579.1"/>
<polyline points="584.2,571.6 588.0,574.8 591.1,576.0"/>
<polyline points="588.0,574.8 585.5,578.5 589.2,582.2 592.4,580.4 594.9,579.1"/>
<polyline points="589.2,582.2 591.8,586.0"/>
<polyline points="581.1,576.0 585.5,578.5"/>
<polyline points="580.5,581.0 587.4,588.5"/>
<polyline points="596.8,569.8 596.1,573.5 598.6,576.0"/>
<polyline points="593.0,566.0 596.1,564.1 603.0,562.9"/>
<polyline points="603.0,587.2 604.2,592.2 606.8,598.5 610.5,597.2 613.0,601.0 618.0,598.5 621.8,594.1"/>
<polyline points="604.9,585.4 608.0,588.5 611.8,587.2"/>
<polyline points="608.0,588.5 610.5,593.5 616.1,591.0"/>
<polyline points="604.2,592.2 610.5,593.5 610.5,597.2"/>
<polyline points="606.8,598.5 605.5,603.5 600.5,602.2"/>
<polyline points="613.0,601.0 615.5,607.2 618.0,611.0"/>
<polyline points="618.0,598.5 624.2,603.5 628.0,597.2"/>
<polyline points="624.2,603.5 621.8,609.8 623.0,611.0"/>
<polyline points="605.5,603.5 606.8,611.0"/>
<polyline points="628.0,597.2 630.5,601.0 635.5,604.8 633.0,611.0"/>
<polyline points="467.8,551.2 468.6,552.2 463.0,554.8 466.8,559.1 471.1,558.5 484.2,571.6 478.6,579.1 481.8,580.4 486.8,591.0 493.6,594.8 493.0,603.5 496.8,611.0"/>
<polyline points="494.3,551.5 490.5,554.8 490.5,561.0 488.6,564.8 484.2,571.6"/>
<polyline points="488.6,564.8 493.0,566.0 495.5,564.8 499.2,569.1 503.0,569.8 506.8,566.6 510.5,567.2 512.4,565.4 520.5,559.8"/>
<polyline points="511.8,551.3 520.5,556.6"/>
<polyline points="518.3,525.4 520.5,524.8"/>
<polyline points="518.5,524.0 534.2,539.1 546.8,523.5 544.2,522.2 548.0,519.8"/>
<polyline points="520.5,544.1 528.0,542.2 534.2,539.1 536.8,548.5 543.0,549.8 548.0,546.0"/>
<polyline points="536.8,548.5 533.0,553.5 525.5,556.0 520.5,556.6"/>
<polyline points="533.0,553.5 536.8,559.8 537.4,565.4 533.0,568.5 533.0,572.2 523.0,579.8 519.9,583.5"/>
<polyline points="537.4,565.4 548.0,561.0"/>
<polyline points="512.4,565.4 518.0,573.5 523.6,574.1 523.0,579.8"/>
<polyline points="448.0,566.0 454.2,561.0 460.5,556.0 463.0,554.8"/>
<polyline points="448.0,576.6 454.2,584.8 456.1,587.2 461.8,582.2 469.2,589.8 473.6,587.2 478.6,579.1"/>
<polyline points="473.6,587.2 479.2,593.5 473.0,601.0 476.8,606.0 473.0,611.0"/>
<polyline points="456.1,587.2 457.4,592.9 448.0,601.0"/>
<polyline points="493.6,594.8 501.8,588.5 506.1,592.2 510.5,585.4 514.9,581.6 519.9,583.5 530.5,593.5 540.5,604.1 544.2,611.0"/>
<polyline points="501.8,594.8 506.1,592.2"/>
<polyline points="501.8,594.8 510.5,606.0 515.5,609.8 518.0,611.0"/>
<polyline points="533.0,572.2 535.5,579.1 543.0,576.0 548.0,577.2"/>
<polyline points="535.5,579.1 546.8,593.5 548.0,596.0"/>
<polyline points="442.2,431.0 437.7,459.5 430.2,461.0 426.5,474.5 423.8,470.3"/>
<polyline points="426.5,474.5 430.2,475.2 437.0,471.5 450.5,468.5 455.7,465.5 457.2,461.0 464.0,455.0 467.0,450.5 477.5,446.0 479.0,442.2 476.7,435.5 480.5,438.5"/>
<polyline points="449.0,431.0 476.7,435.5"/>
<polyline points="455.7,465.5 458.0,470.0 461.7,475.2 459.5,480.5 457.2,485.0 458.0,491.0 460.2,497.0"/>
<polyline points="405.5,495.5 439.2,495.5 447.5,491.7 450.5,497.0 454.2,500.7 460.2,497.0 468.5,494.0 466.2,488.0 468.5,483.5 471.5,474.5 474.5,465.5 476.7,458.7 485.0,459.5"/>
<polyline points="468.5,494.0 470.7,491.0 474.5,488.0 479.7,491.0 485.0,494.0 491.0,494.7 495.5,491.0 500.0,486.5 503.0,484.2"/>
<polyline points="439.2,495.5 441.5,500.0 444.5,501.5 458.0,524.0"/>
<polyline points="470.7,512.7 476.0,516.5 471.5,521.0 473.0,524.0 470.0,527.0 471.5,530.7 464.0,537.5 459.5,541.2 455.0,544.2 449.0,539.0"/>
<polyline points="459.5,541.2 467.0,551.0"/>
<polyline points="471.5,530.7 482.0,540.5 491.0,546.5 494.0,551.0"/>
<polyline points="491.0,546.5 503.0,537.5 509.0,539.0 510.5,551.0"/>
<polyline points="503.0,537.5 506.0,534.5 509.0,527.0 512.0,521.0 513.5,524.0 518.0,525.5"/>
<polyline points="496.2,512.7 503.0,518.0 509.0,516.5 512.0,521.0"/>
<polyline points="503.0,518.0 509.0,512.0 512.0,503.0 513.5,495.5"/>
<polyline points="508.2,488.7 516.5,487.2 518.0,488.0"/>
<polyline points="497.0,431.0 494.0,441.5 486.5,446.0 484.2,447.5"/>
<polyline points="48.0,226.0 68.0,216.0 69.0,211.0"/>
<polyline points="68.0,216.0 69.0,227.0 76.0,239.0 84.0,254.0 90.0,262.0 122.0,262.6 131.0,263.4 144.0,264.0 143.6,281.0 152.0,285.0 154.0,276.0 164.0,272.0 196.0,260.0 207.0,259.0"/>
<polyline points="84.0,254.0 72.0,265.0 66.0,275.0"/>
<polyline points="106.0,211.0 107.0,221.0 116.0,237.0 125.0,227.0 130.0,211.0"/>
<polyline points="122.0,211.0 125.0,219.0 125.0,227.0"/>
<polyline points="116.0,237.0 119.0,246.0 118.0,253.0 122.0,262.6"/>
<polyline points="131.0,263.4 130.0,277.0 131.6,299.0 128.4,310.0"/>
<polyline points="100.0,311.0 128.4,310.0 136.0,310.0 138.0,315.0 148.0,322.0 160.0,319.0 157.0,311.0 152.0,291.0 152.0,285.0"/>
<polyline points="157.0,311.0 168.0,308.0 182.0,299.0 208.0,296.0"/>
<polyline points="160.0,319.0 163.6,326.0 159.0,331.0 158.0,337.0 155.0,341.0 157.0,348.4 122.0,348.4"/>
<polyline points="163.0,323.0 203.0,322.0"/>
<polyline points="157.0,348.4 160.0,353.0 166.0,354.0 196.0,362.0"/>
<polyline points="166.0,354.0 164.0,371.0"/>
<polyline points="54.0,273.0 60.0,283.0 66.0,291.0 76.0,299.0 80.0,311.0 88.0,325.0 96.0,335.0 98.0,341.0 102.0,349.0 108.0,363.0 112.0,371.0"/>
<polyline points="48.0,341.0 73.0,340.0 80.0,344.0 76.0,363.0 74.0,371.0"/>
<polyline points="73.0,340.0 96.0,338.0"/>
<polyline points="202.0,211.0 200.0,219.0 206.0,233.0 208.0,237.0"/>
</g>
<g id="coasts" class="coast">
<polyline points="648.5,610.2 655.5,616.0 664.2,626.0 670.5,636.0 671.8,642.2 666.8,648.5 660.5,657.2 657.5,663.5 656.8,673.5 659.2,683.5 664.2,692.2 670.5,698.5 678.0,701.0 685.5,701.0 688.0,698.5 689.2,706.0 690.5,711.0"/>
<polyline points="690.5,711.0 690.2,726.0 688.6,736.0 683.0,744.8 675.5,754.8 670.5,761.0"/>
<polyline points="608.0,511.0 605.5,516.0 606.8,523.5 608.0,532.2 609.2,541.0"/>
</g>
<g id="provs" class="prov">
<polyline points="48.0,156.0 53.0,154.0 59.2,151.0 60.5,157.2 65.5,166.5 73.0,163.5 90.5,166.5 106.8,164.8 113.5,157.5 141.0,158.2 144.2,168.5 146.0,174.8 150.5,182.2 155.5,186.0 153.0,196.0 168.0,199.8 178.0,207.2 182.1,210.8"/>
<polyline points="208.1,262.5 210.5,271.0 213.0,278.0 211.8,288.5 210.0,298.5 208.1,306.0"/>
<polyline points="213.0,278.0 223.0,274.8 230.5,271.0 240.5,261.0 239.5,247.2 239.5,243.0 247.5,241.0"/>
<polyline points="176.8,111.0 181.8,119.8 184.8,124.0 187.0,121.0 193.0,133.0 200.5,136.5 205.5,131.0 211.8,126.0 223.0,129.8 225.0,128.0 234.2,124.8 234.2,111.0"/>
<polyline points="223.5,129.8 226.8,143.5 228.5,161.0 224.2,177.2 235.5,186.0 241.8,191.0 245.5,199.8 248.0,207.0 246.5,217.0 249.5,220.5 247.0,222.0 247.5,226.0 249.5,230.0 248.5,234.0 247.5,241.0 248.0,241.0"/>
<polyline points="248.0,241.0 275.5,235.5 296.8,238.5 298.0,242.8 304.2,242.8 306.8,239.8 309.2,244.8 326.8,247.2 328.0,251.5 365.5,256.0 364.2,259.8 370.5,267.2 375.5,269.8 379.2,276.0 379.2,286.0 383.0,290.5 403.0,291.0 406.8,301.0 414.2,311.0"/>
<polyline points="432.5,111.0 432.5,133.5 448.0,134.0"/>
<polyline points="432.5,133.5 423.0,193.5 415.5,231.0 410.5,268.5 405.0,297.2"/>
<polyline points="448.0,134.0 534.2,135.5 600.5,138.5"/>
<polyline points="603.0,111.0 606.0,118.5 605.5,131.0 600.5,139.8 601.8,143.5 598.0,147.2 589.2,148.5 588.0,161.0 589.2,171.0 585.5,183.5 583.0,193.5 579.2,204.8 575.5,211.0 568.0,213.5 561.8,221.0 559.2,228.5 555.0,233.5 555.5,246.0 551.8,258.5 555.0,271.0 553.0,281.0 546.8,291.0 548.0,301.0 548.0,311.0"/>
<polyline points="548.0,301.0 551.8,297.2 555.5,294.8 568.0,294.8 571.8,297.2 583.0,289.8 595.5,289.0 608.0,286.0 618.0,289.8 628.0,291.0 634.2,297.2 639.2,304.8 640.5,311.0"/>
<polyline points="698.0,264.8 691.8,266.0 686.8,271.0 683.0,278.5 673.0,286.0 666.8,289.8 665.5,296.0 666.8,303.5 664.2,311.0"/>
<polyline points="123.3,371.5 130.5,383.5 135.5,386.0 139.2,393.5 146.8,401.0 158.0,404.8 165.5,406.0 168.0,402.2 178.0,403.5 184.2,399.8 198.0,398.5 204.2,398.5 218.0,404.8 228.0,411.0 231.8,424.8 248.0,425.5"/>
<polyline points="197.1,371.5 197.5,398.5"/>
<polyline points="103.0,402.2 121.8,399.0 146.8,401.5"/>
<polyline points="103.0,402.2 103.5,416.0 108.0,423.5 114.2,429.8 114.2,433.5"/>
<polyline points="48.0,422.2 58.0,421.0 61.8,418.5 73.0,418.0 78.0,422.2 83.0,426.0 100.5,426.0 108.0,431.0 114.2,433.5 118.0,451.0 121.8,461.0 120.5,471.0 124.2,486.0 126.8,501.0 129.2,511.0"/>
<polyline points="246.8,425.2 248.0,433.5 249.2,441.0 246.8,451.0 244.2,461.0 243.0,471.0 239.2,481.0 236.8,486.0 236.8,496.0 238.0,511.0"/>
<polyline points="414.2,311.0 421.8,318.5 408.0,361.0 404.2,377.2 399.2,383.5 400.5,397.2 403.0,411.0 410.5,423.5 414.0,430.5"/>
<polyline points="397.9,504.5 393.0,511.0"/>
<polyline points="548.0,311.0 549.2,319.8 543.0,328.5 535.5,341.0 528.0,349.8 525.5,356.0 518.0,361.0 514.2,368.5 508.0,373.5 504.2,379.8 493.0,384.8 489.2,387.2 488.0,396.0 485.0,401.0 487.5,411.0 485.5,423.5 483.4,430.5"/>
<polyline points="518.4,497.8 523.0,503.5 528.0,503.5 532.7,510.5"/>
<polyline points="640.5,311.0 644.2,316.0 648.0,318.5"/>
<polyline points="648.0,351.0 644.2,358.5 641.8,368.5 636.8,373.5 640.5,383.5 635.5,393.5 629.2,398.5 628.0,408.5 631.8,421.0 630.5,428.5 626.0,433.5 627.5,451.0 628.5,476.0 623.0,481.0 614.2,484.8 610.5,493.5 609.2,503.5 608.1,510.5"/>
<polyline points="648.0,318.5 653.0,324.8 654.2,333.5 649.2,338.5 650.5,346.0 647.5,352.2"/>
<polyline points="650.5,311.0 652.5,318.5 653.0,324.8"/>
<polyline points="129.2,511.0 134.2,521.0 141.8,529.8 148.0,534.8 154.2,538.5 153.0,546.0 150.5,554.8 148.0,559.8 150.5,571.0 155.5,583.5 161.8,594.8 165.5,606.0 168.0,618.5 166.0,631.0 165.5,646.0 163.5,661.0 162.5,672.2"/>
<polyline points="74.2,678.0 162.5,672.2 243.0,669.0"/>
<polyline points="239.2,511.0 241.8,586.0 243.0,669.0"/>
<polyline points="74.2,678.0 75.5,688.5 78.0,691.0 79.2,711.0"/>
<polyline points="241.8,604.0 248.0,603.5"/>
<polyline points="393.2,511.0 363.0,561.0"/>
<polyline points="335.0,561.0 426.8,561.0 434.8,551.5"/>
<polyline points="335.0,561.0 335.5,602.2 336.8,711.0"/>
<polyline points="248.0,603.5 335.0,602.2"/>
<polyline points="78.0,689.8 80.5,731.0 83.0,761.0"/>
<polyline points="336.5,709.8 337.0,761.0"/>
<polyline points="548.6,515.2 549.9,516.0 551.1,520.4 555.5,521.6 561.8,521.0 563.0,526.0 566.8,527.2 569.9,529.8 574.9,529.8 578.0,532.2 581.8,534.1 584.2,536.6 589.2,537.9 591.8,540.4 594.2,542.9 598.0,543.8 603.0,542.2 606.8,541.6 609.9,543.5 610.5,548.5 609.9,552.2 611.8,554.8 610.5,557.2 606.8,559.1 602.4,560.4 603.0,562.9 604.9,566.0 601.8,569.1 601.1,572.2 603.0,576.0 606.1,579.1 609.2,582.9 608.6,584.8 611.8,587.2 616.1,591.0 621.8,594.1 628.0,597.2 634.2,599.8 640.5,604.1 645.5,608.5 648.0,609.8"/>
<polyline points="603.0,577.9 606.1,579.1 609.2,582.9 608.0,584.8 604.9,585.4 603.0,587.2 600.5,585.4 599.9,582.2 601.1,579.1 603.0,577.9"/>
<polyline points="611.1,554.8 613.0,557.5 615.5,556.2 616.5,554.5"/>
<polyline points="611.8,553.5 611.1,551.0"/>
<polyline points="602.8,560.8 604.5,563.5 604.0,566.0"/>
<polyline points="531.8,511.0 534.2,512.9 539.2,513.5 543.0,517.2 546.8,514.8 548.0,515.4"/>
<polyline points="413.7,431.0 416.0,435.5 416.7,441.5 414.5,446.0 416.7,449.0 421.2,452.0 423.5,458.0 424.2,464.0 423.5,470.0 398.0,505.2"/>
<polyline points="484.2,431.0 482.0,435.5 480.5,438.5 482.7,446.0 484.2,453.5 486.5,459.5 485.7,464.0 489.5,470.0 494.0,476.0 498.5,480.5 503.0,482.7 506.7,484.2 507.5,488.0 512.0,492.5 518.0,497.0"/>
<polyline points="507.5,488.0 505.2,494.0 503.0,498.5 500.0,503.0 498.5,507.5 496.2,512.7 491.0,513.5 486.5,511.2 482.0,509.0 477.5,507.5 474.5,506.7 471.5,509.0 470.7,512.7 435.5,551.0"/>
<polyline points="48.0,264.0 52.0,266.0 54.0,270.0 60.0,273.0 66.0,279.0 74.0,286.0 82.0,293.0 89.0,299.0 91.0,305.0 98.0,313.0 104.0,320.0 110.0,325.0 116.0,332.0 120.0,337.0 119.6,347.0 121.0,355.0 120.4,363.0 122.4,371.0"/>
<polyline points="182.0,211.0 188.0,217.0 190.0,222.0 194.0,224.0 197.0,233.0 204.0,251.0 208.0,262.0"/>
<polyline points="208.0,307.0 202.0,323.0 196.0,341.0 197.0,371.0"/>
</g>
<g id="grid" class="grid">
<path d="M48.5,279.8 A4763,4763 0 0 1 697.5,279.8"/>
<path d="M48.5,613.2 A4430,4430 0 0 1 697.5,613.8"/>
<path d="M234.6,111.5 L252.25,761.5"/>
<path d="M535.2,111.5 L513.65,761.5"/>
</g>
</g>
<rect x="48.5" y="111.5" width="649" height="650" fill="none" stroke="#000" stroke-width="1.1"/>
<g id="labels" font-size="13.89">
<text x="8" y="283.8">30°S</text>
<text x="8" y="617.5">35°S</text>
<text x="253.4" y="777.6" text-anchor="middle">65°W</text>
<text x="514" y="777.6" text-anchor="middle">60°W</text>
</g>
<g id="colorbar">
<rect x="710.3" y="672.48" width="25.50" height="59.62" fill="#ffede5"/>
<rect x="710.3" y="613.46" width="25.50" height="59.62" fill="#fed9c9"/>
<rect x="710.3" y="554.44" width="25.50" height="59.62" fill="#fcbba1"/>
<rect x="710.3" y="495.42" width="25.50" height="59.62" fill="#fc9b7c"/>
<rect x="710.3" y="436.40" width="25.50" height="59.62" fill="#fb7a5a"/>
<rect x="710.3" y="377.38" width="25.50" height="59.62" fill="#f6583e"/>
<rect x="710.3" y="318.36" width="25.50" height="59.62" fill="#e83429"/>
<rect x="710.3" y="259.34" width="25.50" height="59.62" fill="#ca181d"/>
<rect x="710.3" y="200.32" width="25.50" height="59.62" fill="#ac1117"/>
<rect x="710.3" y="140.70" width="25.50" height="60.22" fill="#7e0610"/>
<polygon points="710.3,731.5 723.05,760.6 735.8,731.5" fill="#fff5f0"/>
<polygon points="710.3,141.3 723.05,111.2 735.8,141.3" fill="#67000d"/>
<polygon points="710.3,731.5 723.05,760.5 735.8,731.5 735.8,141.3 723.05,111.2 710.3,141.3" fill="none" stroke="#000" stroke-width="1.1" stroke-linejoin="miter"/>
<line x1="735.8" y1="731.50" x2="741.8" y2="731.50" stroke="#000" stroke-width="1.1"/>
<text x="746.9" y="735.45" font-size="10.6">0</text>
<line x1="735.8" y1="672.48" x2="741.8" y2="672.48" stroke="#000" stroke-width="1.1"/>
<text x="746.9" y="676.43" font-size="10.6">300</text>
<line x1="735.8" y1="613.46" x2="741.8" y2="613.46" stroke="#000" stroke-width="1.1"/>
<text x="746.9" y="617.41" font-size="10.6">600</text>
<line x1="735.8" y1="554.44" x2="741.8" y2="554.44" stroke="#000" stroke-width="1.1"/>
<text x="746.9" y="558.39" font-size="10.6">900</text>
<line x1="735.8" y1="495.42" x2="741.8" y2="495.42" stroke="#000" stroke-width="1.1"/>
<text x="746.9" y="499.37" font-size="10.6">1200</text>
<line x1="735.8" y1="436.40" x2="741.8" y2="436.40" stroke="#000" stroke-width="1.1"/>
<text x="746.9" y="440.35" font-size="10.6">1500</text>
<line x1="735.8" y1="377.38" x2="741.8" y2="377.38" stroke="#000" stroke-width="1.1"/>
<text x="746.9" y="381.33" font-size="10.6">1800</text>
<line x1="735.8" y1="318.36" x2="741.8" y2="318.36" stroke="#000" stroke-width="1.1"/>
<text x="746.9" y="322.31" font-size="10.6">2100</text>
<line x1="735.8" y1="259.34" x2="741.8" y2="259.34" stroke="#000" stroke-width="1.1"/>
<text x="746.9" y="263.29" font-size="10.6">2400</text>
<line x1="735.8" y1="200.32" x2="741.8" y2="200.32" stroke="#000" stroke-width="1.1"/>
<text x="746.9" y="204.27" font-size="10.6">2700</text>
<line x1="735.8" y1="141.30" x2="741.8" y2="141.30" stroke="#000" stroke-width="1.1"/>
<text x="746.9" y="145.25" font-size="10.6">3000</text>

<text transform="translate(788.5,436.5) rotate(-90)" font-size="13.89" text-anchor="middle">J/kg</text>
</g>
<g id="logo">
<g fill="#111"><ellipse cx="641.14" cy="43.40" rx="2.20" ry="1.00" transform="rotate(-123.0 641.14 43.40)"/><ellipse cx="643.23" cy="43.18" rx="1.95" ry="1.00" transform="rotate(-69.0 643.23 43.18)"/><ellipse cx="641.50" cy="46.33" rx="2.20" ry="1.00" transform="rotate(-129.3 641.50 46.33)"/><ellipse cx="643.55" cy="45.88" rx="1.95" ry="1.00" transform="rotate(-75.3 643.55 45.88)"/><ellipse cx="642.18" cy="49.20" rx="2.20" ry="1.00" transform="rotate(-135.7 642.18 49.20)"/><ellipse cx="644.17" cy="48.53" rx="1.95" ry="1.00" transform="rotate(-81.7 644.17 48.53)"/><ellipse cx="643.18" cy="51.98" rx="2.20" ry="1.00" transform="rotate(-142.0 643.18 51.98)"/><ellipse cx="645.08" cy="51.09" rx="1.95" ry="1.00" transform="rotate(-88.0 645.08 51.09)"/><ellipse cx="644.47" cy="54.63" rx="2.20" ry="1.00" transform="rotate(-148.3 644.47 54.63)"/><ellipse cx="646.27" cy="53.54" rx="1.95" ry="1.00" transform="rotate(-94.3 646.27 53.54)"/><ellipse cx="646.05" cy="57.12" rx="2.20" ry="1.00" transform="rotate(-154.7 646.05 57.12)"/><ellipse cx="647.72" cy="55.84" rx="1.95" ry="1.00" transform="rotate(-100.7 647.72 55.84)"/><ellipse cx="647.90" cy="59.43" rx="2.20" ry="1.00" transform="rotate(-161.0 647.90 59.43)"/><ellipse cx="649.41" cy="57.97" rx="1.95" ry="1.00" transform="rotate(-107.0 649.41 57.97)"/><ellipse cx="649.99" cy="61.51" rx="2.20" ry="1.00" transform="rotate(-167.3 649.99 61.51)"/><ellipse cx="651.33" cy="59.90" rx="1.95" ry="1.00" transform="rotate(-113.3 651.33 59.90)"/><ellipse cx="652.29" cy="63.36" rx="2.20" ry="1.00" transform="rotate(-173.7 652.29 63.36)"/><ellipse cx="653.45" cy="61.60" rx="1.95" ry="1.00" transform="rotate(-119.7 653.45 61.60)"/><ellipse cx="654.79" cy="64.94" rx="2.20" ry="1.00" transform="rotate(-180.0 654.79 64.94)"/><ellipse cx="655.74" cy="63.06" rx="1.95" ry="1.00" transform="rotate(-126.0 655.74 63.06)"/><ellipse cx="657.44" cy="66.23" rx="2.20" ry="1.00" transform="rotate(-186.3 657.44 66.23)"/><ellipse cx="658.18" cy="64.26" rx="1.95" ry="1.00" transform="rotate(-132.3 658.18 64.26)"/><ellipse cx="660.22" cy="67.22" rx="2.20" ry="1.00" transform="rotate(-192.7 660.22 67.22)"/><ellipse cx="660.74" cy="65.19" rx="1.95" ry="1.00" transform="rotate(-138.7 660.74 65.19)"/><ellipse cx="663.09" cy="67.90" rx="2.20" ry="1.00" transform="rotate(-199.0 663.09 67.90)"/><ellipse cx="663.39" cy="65.82" rx="1.95" ry="1.00" transform="rotate(-145.0 663.39 65.82)"/><ellipse cx="642.18" cy="40.85" rx="2.30" ry="0.85" transform="rotate(-91.0 642.18 40.85)"/><ellipse cx="694.46" cy="43.40" rx="2.20" ry="1.00" transform="rotate(-57.0 694.46 43.40)"/><ellipse cx="692.37" cy="43.18" rx="1.95" ry="1.00" transform="rotate(-111.0 692.37 43.18)"/><ellipse cx="694.10" cy="46.33" rx="2.20" ry="1.00" transform="rotate(-50.7 694.10 46.33)"/><ellipse cx="692.05" cy="45.88" rx="1.95" ry="1.00" transform="rotate(-104.7 692.05 45.88)"/><ellipse cx="693.42" cy="49.20" rx="2.20" ry="1.00" transform="rotate(-44.3 693.42 49.20)"/><ellipse cx="691.43" cy="48.53" rx="1.95" ry="1.00" transform="rotate(-98.3 691.43 48.53)"/><ellipse cx="692.42" cy="51.98" rx="2.20" ry="1.00" transform="rotate(-38.0 692.42 51.98)"/><ellipse cx="690.52" cy="51.09" rx="1.95" ry="1.00" transform="rotate(-92.0 690.52 51.09)"/><ellipse cx="691.13" cy="54.63" rx="2.20" ry="1.00" transform="rotate(-31.7 691.13 54.63)"/><ellipse cx="689.33" cy="53.54" rx="1.95" ry="1.00" transform="rotate(-85.7 689.33 53.54)"/><ellipse cx="689.55" cy="57.12" rx="2.20" ry="1.00" transform="rotate(-25.3 689.55 57.12)"/><ellipse cx="687.88" cy="55.84" rx="1.95" ry="1.00" transform="rotate(-79.3 687.88 55.84)"/><ellipse cx="687.70" cy="59.43" rx="2.20" ry="1.00" transform="rotate(-19.0 687.70 59.43)"/><ellipse cx="686.19" cy="57.97" rx="1.95" ry="1.00" transform="rotate(-73.0 686.19 57.97)"/><ellipse cx="685.61" cy="61.51" rx="2.20" ry="1.00" transform="rotate(-12.7 685.61 61.51)"/><ellipse cx="684.27" cy="59.90" rx="1.95" ry="1.00" transform="rotate(-66.7 684.27 59.90)"/><ellipse cx="683.31" cy="63.36" rx="2.20" ry="1.00" transform="rotate(-6.3 683.31 63.36)"/><ellipse cx="682.15" cy="61.60" rx="1.95" ry="1.00" transform="rotate(-60.3 682.15 61.60)"/><ellipse cx="680.81" cy="64.94" rx="2.20" ry="1.00" transform="rotate(-0.0 680.81 64.94)"/><ellipse cx="679.86" cy="63.06" rx="1.95" ry="1.00" transform="rotate(-54.0 679.86 63.06)"/><ellipse cx="678.16" cy="66.23" rx="2.20" ry="1.00" transform="rotate(6.3 678.16 66.23)"/><ellipse cx="677.42" cy="64.26" rx="1.95" ry="1.00" transform="rotate(-47.7 677.42 64.26)"/><ellipse cx="675.38" cy="67.22" rx="2.20" ry="1.00" transform="rotate(12.7 675.38 67.22)"/><ellipse cx="674.86" cy="65.19" rx="1.95" ry="1.00" transform="rotate(-41.3 674.86 65.19)"/><ellipse cx="672.51" cy="67.90" rx="2.20" ry="1.00" transform="rotate(19.0 672.51 67.90)"/><ellipse cx="672.21" cy="65.82" rx="1.95" ry="1.00" transform="rotate(-35.0 672.21 65.82)"/><ellipse cx="693.42" cy="40.85" rx="2.30" ry="0.85" transform="rotate(-89.0 693.42 40.85)"/></g>
<path d="M642.26,43.39 A25.6,25.6 0 0 0 669.30,67.60" fill="none" stroke="#111" stroke-width="2.2"/>
<path d="M693.34,43.39 A25.6,25.6 0 0 1 666.30,67.60" fill="none" stroke="#111" stroke-width="2.2"/>
<path d="M661.50,70.80 L669.00,66.60 M674.10,70.80 L666.60,66.60" stroke="#111" stroke-width="1.5" stroke-linecap="round" fill="none"/>
<circle cx="667.8" cy="42.6" r="22.4" fill="#fff" stroke="#3a3a3a" stroke-width="0.7"/>
<circle cx="667.8" cy="42.6" r="21.2" fill="none" stroke="#9a9a9a" stroke-width="0.45"/>
<circle cx="667.8" cy="42.6" r="17.2" fill="none" stroke="#666" stroke-width="0.5"/>
<defs><path id="ringT" d="M649.60,42.6 A18.2,18.2 0 0 1 686.00,42.6"/><path id="ringB" d="M647.20,42.6 A20.6,20.6 0 0 0 688.40,42.6"/></defs>
<text font-family="'Liberation Sans',sans-serif" font-weight="bold" font-size="3.1" fill="#666" letter-spacing="0.35"><textPath href="#ringT" startOffset="50%" text-anchor="middle">GRUPO DE USUARIOS WRF</textPath></text>
<text font-family="'Liberation Sans',sans-serif" font-weight="bold" font-size="3.1" fill="#777" letter-spacing="0.3"><textPath href="#ringB" startOffset="50%" text-anchor="middle">GRUPO DE USUARIOS WRF · ARGENTINA</textPath></text>
<g fill="none" stroke="#c4c4c4" stroke-width="0.35"><polyline points="656.87,38.87 657.31,31.00 661.25,28.81 672.62,29.69 673.06,36.25"/><polyline points="661.25,28.81 661.68,36.25 670.87,36.25"/><polyline points="672.62,29.69 680.49,31.87 683.99,36.25"/><polyline points="651.62,38.87 656.87,38.87 656.87,45.00 653.81,46.75"/></g>
<polygon points="661.25,38.87 663.87,35.81 669.12,35.37 670.87,37.12 671.31,34.50 674.37,33.18 678.74,32.92 682.24,35.37 683.99,38.00 684.87,42.37 683.99,45.87 682.68,48.50 680.49,51.12 677.87,52.87 676.12,55.49 673.50,58.12 670.00,58.99 664.75,58.56 660.37,57.68 657.75,55.49 658.18,52.87 656.00,51.12 653.81,48.50 653.81,46.31 656.87,45.00 660.37,44.12 661.68,41.50" fill="#2f7bf0"/>
<polygon points="661.68,39.31 664.31,36.51 668.95,36.07 671.05,38.17 671.92,35.20 674.55,33.97 678.57,33.80 681.54,35.90 683.12,38.35 683.99,42.37 683.12,45.43 682.07,48.06 679.97,50.42 677.34,52.17 675.59,54.79 673.15,57.24 669.82,58.12 664.92,57.77 660.90,56.89 658.80,55.14 659.15,52.52 656.87,50.68 654.95,48.32 655.30,46.75 657.31,45.87 660.90,44.82 662.30,41.85" fill="#36d6e0"/>
<polygon points="662.56,39.75 664.75,37.30 668.68,36.95 670.43,39.31 672.18,40.18 672.62,36.25 674.81,34.93 678.31,34.85 680.93,36.68 682.24,38.87 682.94,42.37 682.24,45.00 680.93,47.62 679.18,49.55 676.82,51.12 674.81,54.18 672.62,56.37 669.56,57.24 665.18,56.98 661.42,56.11 659.93,54.62 660.37,52.43 658.45,50.42 656.87,48.50 657.92,47.18 661.25,45.87 663.17,42.37" fill="#52e05a"/>
<polygon points="662.82,40.45 665.62,39.05 668.68,40.18 670.87,43.68 673.50,46.75 676.12,49.81 674.37,53.74 672.18,56.19 667.37,57.68 663.00,57.24 659.67,55.84 660.55,53.57 661.25,51.12 662.82,47.62 662.30,44.12" fill="#f2e52c"/>
<polygon points="678.74,39.31 682.24,38.87 683.82,42.37 682.94,45.00 680.49,44.56 679.18,41.93" fill="#d8e83a"/>
<polygon points="664.75,45.00 667.81,44.56 669.56,47.62 668.68,51.12 665.62,50.68 664.31,47.62" fill="#f59b25"/>
<polygon points="659.50,54.62 662.12,54.18 663.17,56.37 660.81,57.24" fill="#f59b25"/>
<polygon points="682.07,42.55 683.64,42.37 683.64,44.82 682.24,44.82" fill="#f59b25"/>
<polygon points="670.00,51.12 672.18,51.56 671.75,53.74 670.00,53.31" fill="#f59b25"/>
<polygon points="665.80,47.18 667.20,46.92 667.55,48.50 666.06,48.67" fill="#e8432a"/>
<polygon points="660.02,55.32 661.25,55.14 661.42,56.37 660.20,56.37" fill="#e8432a"/>
<polygon points="662.82,41.93 663.87,41.67 664.05,42.90 663.00,43.07" fill="#e8432a"/>
<polygon points="672.18,38.00 673.50,38.87 676.12,41.50 678.74,44.56 682.24,47.18 682.68,48.50 680.49,48.93 677.87,47.62 676.12,45.00 673.50,43.68 672.18,40.62" fill="#fff"/>
<polygon points="657.31,48.50 659.93,48.93 660.81,51.56 658.62,51.99 657.57,50.68" fill="#fff"/>
<polygon points="671.57,35.55 673.50,34.76 674.20,36.25 672.45,37.30" fill="#2f7bf0"/>
<polygon points="652.94,34.93 654.69,36.25 654.69,38.00 653.37,37.12" fill="#2f7bf0"/>
<polygon points="674.81,32.92 676.99,32.57 677.43,33.45 675.24,33.80" fill="#fff"/>
<g font-family="'Liberation Sans',sans-serif">
<text x="699.3" y="33" font-size="18.2" fill="#2e2e2e" textLength="55.8" lengthAdjust="spacingAndGlyphs">Grupo de</text>
<text x="699.6" y="49.5" font-size="18.2" fill="#2e2e2e" textLength="54" lengthAdjust="spacingAndGlyphs">Usuarios</text>
<text x="699.3" y="64.5" font-size="15.4" font-weight="bold" fill="#000" stroke="#000" stroke-width="0.55" textLength="28.3" lengthAdjust="spacingAndGlyphs">WRF</text>
</g>
</g>
</svg>
</body></html>
